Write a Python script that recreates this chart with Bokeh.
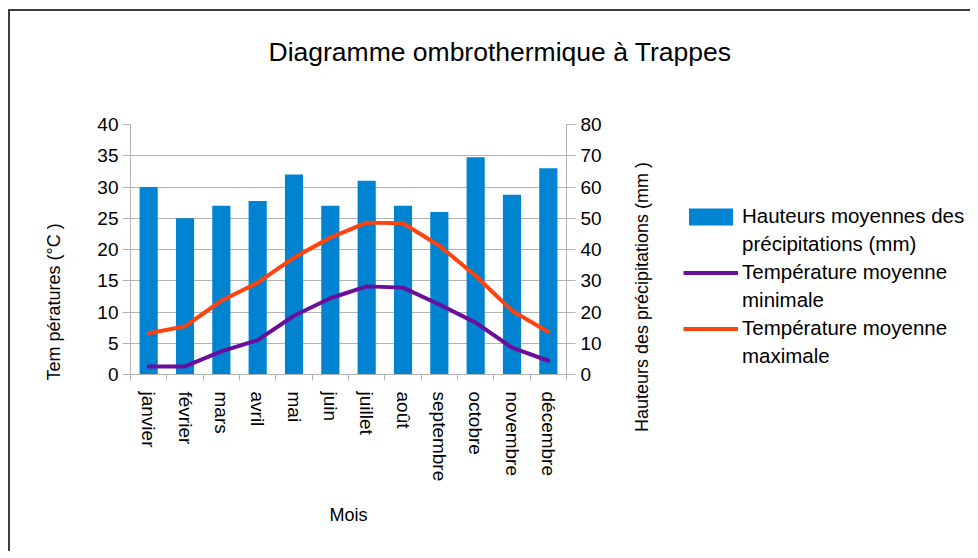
import math
from bokeh.plotting import figure
from bokeh.layouts import column, row
from bokeh.models import (Range1d, LinearAxis, FixedTicker, SingleIntervalTicker,
                          Legend, LegendItem, ColumnDataSource)
from bokeh.embed import file_html
from bokeh.resources import INLINE

# ---- data ----
months = ["janvier", "février", "mars", "avril", "mai", "juin", "juillet",
          "août", "septembre", "octobre", "novembre", "décembre"]
precip_mm = [60, 50, 54, 55.5, 64, 54, 62, 54, 52, 69.5, 57.5, 66]
temp_min = [1.3, 1.3, 3.7, 5.5, 9.4, 12.2, 14.1, 13.9, 11.2, 8.3, 4.3, 2.2]
temp_max = [6.6, 7.7, 11.8, 14.7, 18.7, 21.9, 24.3, 24.2, 20.6, 15.8, 10.2, 6.8]

title_text = "Diagramme ombrothermique à Trappes"
left_label = "Tem pératures (°C )"
right_label = "Hauteurs des précipitations (mm )"
x_label = "Mois"
legend_lines = [["Hauteurs moyennes des", "précipitations (mm)"],
                ["Température moyenne", "minimale"],
                ["Température moyenne", "maximale"]]

FONT = "Liberation Sans"
GRID = "#b3b3b3"
BLUE = "#0084d1"
PURPLE = "#6a0f9c"
ORANGE = "#ff420e"

n = len(months)
xc = [i + 0.5 for i in range(n)]
src = ColumnDataSource(dict(x=xc, precip=precip_mm, tmin=temp_min, tmax=temp_max))

def bare(fig):
    fig.outline_line_color = None
    fig.background_fill_color = "white"
    fig.border_fill_color = "white"
    fig.grid.visible = False
    return fig

def style_axis(ax, size="19px"):
    ax.axis_line_color = GRID
    ax.major_tick_line_color = GRID
    ax.minor_tick_line_color = None
    ax.major_label_text_font = FONT
    ax.major_label_text_font_size = size
    ax.major_label_text_color = "#000000"
    ax.axis_label_text_font = FONT
    ax.axis_label_text_font_size = "18px"
    ax.axis_label_text_font_style = "normal"
    ax.axis_label_text_color = "#000000"

def title_axis(text, pos, standoff):
    """A bare axis whose single tick label is a vertical axis title."""
    ax = LinearAxis(ticker=FixedTicker(ticks=[pos]))
    style_axis(ax, "18px")
    ax.axis_line_color = None
    ax.major_tick_line_color = None
    ax.major_tick_out = 0
    ax.major_tick_in = 0
    ax.major_label_standoff = standoff
    ax.major_label_orientation = "vertical"
    ax.major_label_overrides = {pos: text}
    return ax

# ---------- title strip ----------
T = figure(width=960, height=98, output_backend="svg", toolbar_location=None,
           x_range=Range1d(0, 1), y_range=Range1d(0, 1), min_border=0,
           x_axis_location=None, y_axis_location=None)
bare(T)
T.title.text = title_text
T.title.text_font = FONT
T.title.text_font_size = "26.5px"
T.title.text_font_style = "normal"
T.title.text_color = "#000000"
T.title.align = "left"
T.title.offset = 258
T.title.standoff = 46

# ---------- main chart ----------
p = figure(frame_width=436, frame_height=250, output_backend="svg",
           toolbar_location=None,
           x_range=Range1d(0, n), y_range=Range1d(0, 40),
           min_border_left=120, min_border_right=54,
           min_border_top=15, min_border_bottom=177,
           x_axis_location=None, y_axis_location=None)
p.outline_line_color = None
p.background_fill_color = "white"
p.border_fill_color = "white"
p.extra_y_ranges = {"precip": Range1d(0, 80)}

bars = p.vbar(x="x", top="precip", width=0.5, source=src, y_range_name="precip",
              fill_color=BLUE, line_color=None)
lmin = p.line(x="x", y="tmin", source=src, line_color=PURPLE, line_width=4,
              line_join="round", line_cap="round")
lmax = p.line(x="x", y="tmax", source=src, line_color=ORANGE, line_width=4,
              line_join="round", line_cap="round")

# left axis
yl = LinearAxis(ticker=SingleIntervalTicker(interval=5))
style_axis(yl)
yl.major_tick_out = 8
yl.major_tick_in = 0
yl.major_label_standoff = 4
p.add_layout(yl, "left")
p.add_layout(title_axis(left_label, 11.6, 31), "left")

# right axis
yr = LinearAxis(y_range_name="precip", ticker=SingleIntervalTicker(interval=10))
style_axis(yr)
yr.major_tick_out = 9
yr.major_tick_in = 0
yr.major_label_standoff = 5
p.add_layout(yr, "right")

# x axis
xt = FixedTicker(ticks=xc, minor_ticks=list(range(n + 1)))
xa = LinearAxis(ticker=xt)
style_axis(xa)
xa.major_tick_line_color = None
xa.major_tick_out = 0
xa.major_tick_in = 0
xa.minor_tick_line_color = GRID
xa.minor_tick_out = 6
xa.minor_tick_in = 0
xa.major_label_orientation = "vertical"
xa.major_label_standoff = 11
xa.major_label_overrides = {x: m for x, m in zip(xc, months)}
xa.axis_label = x_label
xa.axis_label_standoff = 21
p.add_layout(xa, "below")

p.ygrid.ticker = SingleIntervalTicker(interval=5)
p.ygrid.grid_line_color = GRID
p.xgrid.grid_line_color = None

# ---------- right-axis title + legend ----------
# The legend panel shares the series' source, viewed over an empty x window,
# so only the legend keys are visible there.
B = figure(width=350, height=442, output_backend="svg", toolbar_location=None,
           x_range=Range1d(-2, -1), y_range=Range1d(0, 40), min_border=0,
           min_border_left=40, x_axis_location=None, y_axis_location=None)
bare(B)
B.add_layout(title_axis(right_label, 12.4, 9), "left")

key_bar = B.vbar(x="x", top="precip", width=0.5, source=src,
                 fill_color=BLUE, line_color=None)
key_min = B.line(x="x", y="tmin", source=src, line_color=PURPLE, line_width=4)
key_max = B.line(x="x", y="tmax", source=src, line_color=ORANGE, line_width=4)
key_blank = B.line(x="x", y="tmin", source=src, line_alpha=0)

items = []
for lines, r in zip(legend_lines, [key_bar, key_min, key_max]):
    items.append(LegendItem(label=lines[0], renderers=[r]))
    items.append(LegendItem(label=lines[1], renderers=[key_blank]))

legend = Legend(items=items, location=(23, 6))
legend.border_line_color = None
legend.background_fill_alpha = 0
legend.padding = 0
legend.margin = 0
legend.spacing = 4
legend.glyph_width = 55
legend.glyph_height = 21
legend.label_height = 21
legend.label_standoff = 4
legend.label_text_font = FONT
legend.label_text_font_size = "20.5px"
legend.label_text_color = "#000000"
B.add_layout(legend, "center")

layout = column(T, row(p, B, spacing=0), spacing=0)
layout.styles = {"border-left": "2px solid #3c3c3c", "border-top": "2px solid #3c3c3c",
                 "margin-left": "8px", "margin-top": "9px"}

open("out.html", "w").write(file_html(layout, INLINE))
